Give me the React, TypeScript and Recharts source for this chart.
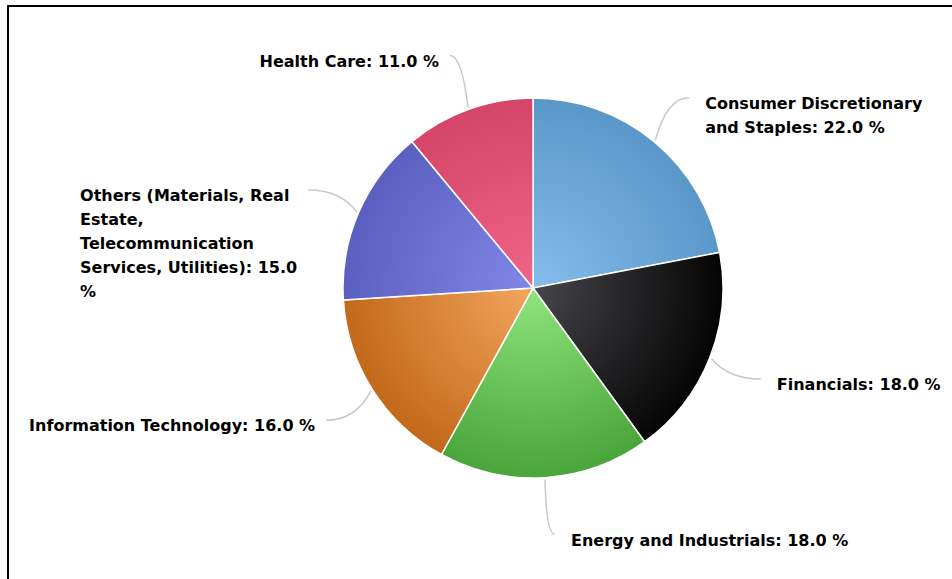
import { PieChart, Pie, Cell } from 'recharts'

const sectors = [
  'Consumer Discretionary and Staples',
  'Financials',
  'Energy and Industrials',
  'Information Technology',
  'Others (Materials, Real Estate, Telecommunication Services, Utilities)',
  'Health Care',
]
const shares = [22, 18, 18, 16, 15, 11]
const centerColors = ['#86bdec', '#46464b', '#90e47e', '#f3a55e', '#8286e6', '#f1658a']
const edgeColors = ['#5a97c9', '#050505', '#4aa53a', '#c2691a', '#5b60c0', '#d44567']

const data = sectors.map((name, i) => ({ name, value: shares[i] }))

const W = 952
const H = 579
const CX = 533
const CY = 288
const R = 190
const FONT = 'bold 16px "DejaVu Sans"'
const RAD = Math.PI / 180

let ctx: CanvasRenderingContext2D | null = null
const measure = (s: string) => {
  if (!ctx) ctx = document.createElement('canvas').getContext('2d')
  if (!ctx) return s.length * 9
  ctx.font = FONT
  return ctx.measureText(s).width
}

const wrap = (text: string, maxWidth: number) => {
  const words = text.split(' ')
  const lines: string[] = []
  let cur = ''
  words.forEach((w) => {
    const next = cur ? cur + ' ' + w : w
    if (cur && measure(next) > maxWidth) {
      lines.push(cur)
      cur = w
    } else {
      cur = next
    }
  })
  if (cur) lines.push(cur)
  return lines
}

const renderLabel = (props: any) => {
  const { cx, cy, midAngle, outerRadius, name, value } = props
  const c = Math.cos(midAngle * RAD)
  const s = Math.sin(midAngle * RAD)
  const right = c >= 0
  const ax = cx + (right ? 1 : -1) * Math.max(Math.abs((outerRadius + 55) * c), 22)
  const ay = cy - (outerRadius + 57) * s
  const kx = cx + (outerRadius + 20) * c
  const ex = cx + (outerRadius + 2) * c
  const ey = cy - (outerRadius + 2) * s
  // upper labels get wrapped, lower ones have room to stay on one line
  const lines = wrap(`${name}: ${value.toFixed(1)} %`, s > 0 ? 222 : 420)
  const blockW = Math.max(...lines.map(measure))
  const tx = right ? ax + 16 : ax - 11 - blockW
  return (
    <g>
      <path
        d={`M${ax},${ay} Q${kx},${ay} ${ex},${ey}`}
        fill="none"
        stroke="#c8c8c8"
        strokeWidth={1.5}
      />
      <text x={tx} y={ay + 11} fill="#000" style={{ font: FONT }} textAnchor="start">
        {lines.map((l, i) => (
          <tspan key={i} x={tx} dy={i === 0 ? 0 : 24}>
            {l}
          </tspan>
        ))}
      </text>
    </g>
  )
}

export default function App() {
  return (
    <div
      style={{
        position: 'absolute',
        left: 0,
        top: 0,
        width: W,
        height: H,
        overflow: 'hidden',
        background: '#fff',
      }}
    >
      <div
        style={{
          position: 'absolute',
          left: 7,
          top: 5,
          width: 1100,
          height: 1100,
          border: '2px solid #000',
        }}
      />
      <div style={{ position: 'absolute', left: 0, top: 0 }}>
        <PieChart width={W} height={H} margin={{ top: 0, right: 0, bottom: 0, left: 0 }}>
          <defs>
            {centerColors.map((col, i) => (
              <radialGradient
                key={i}
                id={`slice${i}`}
                gradientUnits="userSpaceOnUse"
                cx={CX}
                cy={CY}
                r={R}
              >
                <stop offset="0%" stopColor={col} />
                <stop offset="100%" stopColor={edgeColors[i]} />
              </radialGradient>
            ))}
          </defs>
          <Pie
            data={data}
            dataKey="value"
            nameKey="name"
            cx={CX}
            cy={CY}
            outerRadius={R}
            startAngle={90}
            endAngle={-270}
            stroke="#fff"
            strokeWidth={1.5}
            label={renderLabel}
            labelLine={false}
            isAnimationActive={false}
          >
            {data.map((_, i) => (
              <Cell key={i} fill={`url(#slice${i})`} />
            ))}
          </Pie>
        </PieChart>
      </div>
    </div>
  )
}
